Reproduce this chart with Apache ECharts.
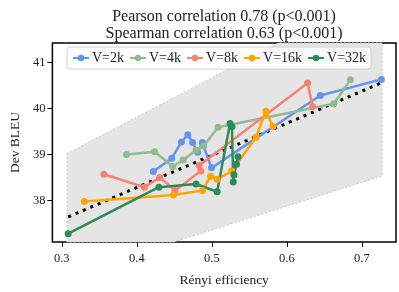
<!DOCTYPE html>
<html><head><meta charset="utf-8">
<script src="https://cdn.jsdelivr.net/npm/echarts@6/dist/echarts.min.js"></script>
<style>html,body{margin:0;padding:0;background:#fff}#c{width:399px;height:292px}</style>
</head><body><div id="c"></div>
<script>
// Data
const seriesNames = ['V=2k', 'V=4k', 'V=8k', 'V=16k', 'V=32k'];
const v2kX = [0.422, 0.4466, 0.4595, 0.468, 0.4744, 0.481, 0.4873, 0.4996, 0.6445, 0.726];
const v2kY = [38.63, 38.92, 39.27, 39.43, 39.26, 39.05, 39.26, 38.71, 40.28, 40.63];
const v4kX = [0.3862, 0.4237, 0.4479, 0.4617, 0.479, 0.4893, 0.5083, 0.6626, 0.6846];
const v4kY = [39.00, 39.06, 38.74, 38.88, 39.09, 39.19, 39.59, 40.10, 40.62];
const v8kX = [0.356, 0.41, 0.4307, 0.4508, 0.4854, 0.4832, 0.6277, 0.6341];
const v8kY = [38.57, 38.29, 38.50, 38.22, 38.64, 38.76, 40.55, 40.04];
const v16kX = [0.3301, 0.4488, 0.4876, 0.4983, 0.507, 0.5264, 0.5587, 0.572, 0.5815];
const v16kY = [37.98, 38.12, 38.22, 38.53, 38.46, 38.64, 39.37, 39.94, 39.61];
const v32kX = [0.3085, 0.4294, 0.4789, 0.507, 0.5242, 0.5268, 0.5285, 0.5294, 0.5329, 0.5349];
const v32kY = [37.28, 38.29, 38.36, 38.19, 39.67, 39.60, 38.40, 38.56, 38.79, 38.95];
const regX = [0.3086, 0.7248];
const regY = [37.646, 40.548];
const bandX = [0.3069, 0.5886, 0.7269, 0.7269, 0.4495, 0.3069];
const bandY = [39.02, 41.42, 41.42, 38.533, 37.10, 37.10];
const xTicks = [0.3, 0.4, 0.5, 0.6, 0.7];
const yTicks = [38, 39, 40, 41];
const colors = ['#6495ED', '#8FBC8F', '#FA8072', '#FFA500', '#2E8B57'];
const titleText = 'Pearson correlation 0.78 (p<0.001)\nSpearman correlation 0.63 (p<0.001)';

const FONT = 'Liberation Serif';
const zip = (xs, ys) => xs.map((x, i) => [x, ys[i]]);
const allX = [v2kX, v4kX, v8kX, v16kX, v32kX];
const allY = [v2kY, v4kY, v8kY, v16kY, v32kY];

const lineSeries = seriesNames.map((n, i) => ({
  name: n, type: 'line', data: zip(allX[i], allY[i]),
  color: colors[i], symbol: 'circle', symbolSize: 7, showSymbol: true,
  lineStyle: { width: 2.5, color: colors[i] }, itemStyle: { color: colors[i] },
  emphasis: { disabled: true }, z: 4
}));

const chart = echarts.init(document.getElementById('c'), null, { renderer: 'canvas' });
chart.setOption({
  animation: false,
  title: { text: titleText, left: 219, top: 3, textAlign: 'center',
    textStyle: { fontFamily: FONT, fontSize: 16, fontWeight: 'normal', color: '#222', lineHeight: 17 } },
  legend: {
    data: seriesNames, left: 67, top: 47, itemGap: 5, itemWidth: 16, itemHeight: 8,
    backgroundColor: 'rgba(255,255,255,0.85)', borderColor: '#d0d0d0', borderWidth: 1, borderRadius: 3,
    padding: [4, 5], textStyle: { fontFamily: FONT, fontSize: 14, color: '#222', padding: [0, 0, 0, -2] }
  },
  grid: { left: 42, right: 3, top: 43, bottom: 41.5, show: true, borderColor: '#000', borderWidth: 1.5, backgroundColor: 'transparent' },
  xAxis: {
    type: 'value', min: 0.2875, max: 0.7454,
    name: 'Rényi efficiency', nameLocation: 'middle', nameGap: 31,
    nameTextStyle: { fontFamily: FONT, fontSize: 13.5, color: '#222' },
    axisLine: { show: false }, splitLine: { show: false },
    axisTick: { show: true, length: 5, inside: false, customValues: xTicks, lineStyle: { color: '#000', width: 1 } },
    axisLabel: { customValues: xTicks, formatter: v => v.toFixed(1), fontFamily: FONT, fontSize: 12.5, color: '#222', margin: 10 }
  },
  yAxis: {
    type: 'value', min: 37.10, max: 41.42,
    name: 'Dev BLEU', nameLocation: 'middle', nameGap: 29, nameRotate: 90,
    nameTextStyle: { fontFamily: FONT, fontSize: 13.5, color: '#222' },
    axisLine: { show: false }, splitLine: { show: false },
    axisTick: { show: true, length: 5, customValues: yTicks, lineStyle: { color: '#000', width: 1 } },
    axisLabel: { customValues: yTicks, formatter: v => String(v), fontFamily: FONT, fontSize: 12.5, color: '#222', margin: 7 }
  },
  series: [
    { type: 'custom', name: 'band', silent: true, z: 1, data: [0],
      renderItem: (params, api) => ({
        type: 'polygon',
        shape: { points: bandX.map((x, i) => api.coord([x, bandY[i]])) },
        style: { fill: '#e5e5e5', stroke: '#cccccc', lineWidth: 1, lineDash: [2, 2] }
      }) },
    { type: 'line', name: 'fit', data: zip(regX, regY), symbol: 'none', silent: true, z: 3,
      lineStyle: { color: '#000', width: 3, type: [3, 5] } },
    ...lineSeries
  ]
});
</script></body></html>
